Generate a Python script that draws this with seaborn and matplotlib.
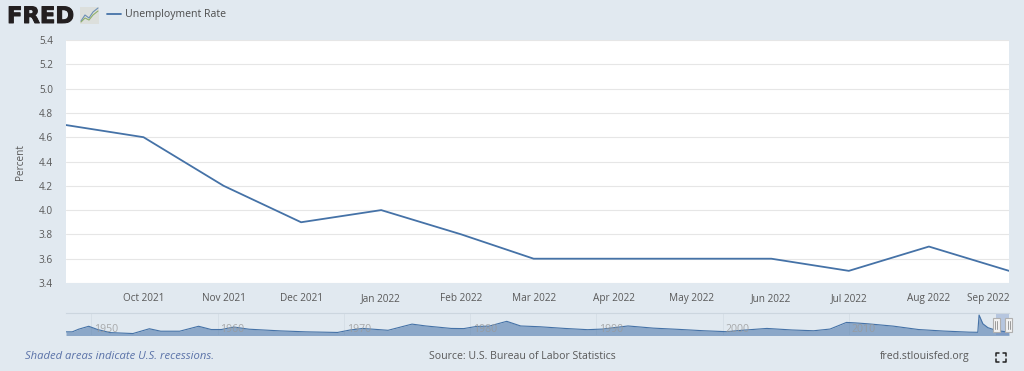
import matplotlib
matplotlib.use('Agg')
import matplotlib.pyplot as plt
import matplotlib.patheffects as pe
from matplotlib.lines import Line2D
from matplotlib.patches import Rectangle
import seaborn as sns
import pandas as pd

# Main series
months = ['2021-09-01', '2021-10-01', '2021-11-01', '2021-12-01', '2022-01-01', '2022-02-01', '2022-03-01',
          '2022-04-01', '2022-05-01', '2022-06-01', '2022-07-01', '2022-08-01', '2022-09-01']
rate = [4.7, 4.6, 4.2, 3.9, 4.0, 3.8, 3.6, 3.6, 3.6, 3.6, 3.5, 3.7, 3.5]
month_labels = ['', 'Oct 2021', 'Nov 2021', 'Dec 2021', 'Jan 2022', 'Feb 2022', 'Mar 2022',
                'Apr 2022', 'May 2022', 'Jun 2022', 'Jul 2022', 'Aug 2022', 'Sep 2022']
y_ticks = [3.4, 3.6, 3.8, 4.0, 4.2, 4.4, 4.6, 4.8, 5.0, 5.2, 5.4]

# Navigator series, read roughly from the small strip
nav_years = [1948, 1948.5, 1949, 1949.8, 1950.5, 1951.5, 1953.3, 1954.6, 1955.5, 1957, 1958.5, 1959.5, 1960.3, 1961.3,
             1962.5, 1965, 1967, 1969.5, 1970.5, 1971.5, 1973.5, 1975.4, 1976.5, 1978.5, 1979.5, 1980.5, 1981.5,
             1982.9, 1984, 1985.5, 1987.5, 1989.3, 1990.5, 1992.5, 1994.5, 1996.5, 1998.5, 2000.3, 2001.5, 2003.5,
             2005.5, 2007.2, 2008.5, 2009.8, 2010.5, 2011.5, 2013.5, 2015.5, 2017.5, 2019.5, 2020.2, 2020.3, 2020.6,
             2021.0, 2021.67, 2022.67]
nav_rate = [3.8, 3.8, 5.5, 7.4, 5.3, 3.3, 2.7, 5.8, 4.2, 4.2, 7.4, 5.3, 5.3, 6.9,
            5.5, 4.4, 3.8, 3.4, 5.0, 6.0, 4.8, 8.8, 7.6, 6.0, 5.9, 7.3, 7.5,
            10.6, 7.6, 7.1, 6.0, 5.2, 5.6, 7.6, 6.2, 5.4, 4.5, 3.9, 4.8, 6.0,
            5.0, 4.5, 5.6, 9.9, 9.6, 9.0, 7.5, 5.3, 4.3, 3.6, 3.5, 14.7, 9.0,
            6.5, 4.7, 3.5]
nav_tick_years = [1950, 1960, 1970, 1980, 1990, 2000, 2010]

df = pd.DataFrame({'date': pd.to_datetime(months), 'rate': rate})
nav = pd.DataFrame({'year': nav_years, 'rate': nav_rate})

sns.set_theme(style='white')
plt.rcParams['font.family'] = ['Open Sans', 'DejaVu Sans']

W, H = 1024, 371
BG = '#E1E9F0'
LINE = '#4572A7'
TXT = '#595959'


def box(l, t, r, b):
    return [l / W, 1 - b / H, (r - l) / W, (b - t) / H]


def px(x, y):
    return x / W, 1 - y / H


fig = plt.figure(figsize=(W / 100, H / 100), dpi=100, facecolor=BG)

# Main chart
ax = fig.add_axes(box(66, 40, 1009, 283), facecolor='white')
sns.lineplot(data=df, x='date', y='rate', color=LINE, linewidth=1.3, ax=ax, legend=False)
ax.set_xlim(df['date'].iloc[0], df['date'].iloc[-1])
ax.set_ylim(3.4, 5.4)
ax.set_yticks(y_ticks)
ax.set_yticklabels([f'{v:.1f}' for v in y_ticks], fontsize=7.2, color=TXT, va='center_baseline')
ax.set_xticks(df['date'])
ax.set_xticklabels(month_labels, fontsize=7.2, color=TXT, va='baseline')
ax.grid(axis='y', color='#E6E6E6', linewidth=0.8)
ax.set_axisbelow(True)
ax.tick_params(axis='y', length=0, pad=9.4)
ax.tick_params(axis='x', length=6, width=0.8, color='#C6D6E4', pad=7)
ax.get_xticklabels()[-1].set_ha('right')
for s in ax.spines.values():
    s.set_visible(False)
ax.set_xlabel('')
ax.set_ylabel('')
fig.text(*px(20, 162), 'Percent', rotation=90, ha='center', va='center', fontsize=7.2, color=TXT)

# Navigator strip
nx = fig.add_axes(box(66, 313, 1009, 335), facecolor='none')
nx.fill_between(nav['year'], nav['rate'], 0, color=LINE, alpha=0.55, linewidth=0)
sns.lineplot(data=nav, x='year', y='rate', color=LINE, linewidth=0.8, ax=nx, legend=False)
nx.set_xlim(1948, 2022.67)
nx.set_ylim(1.75, 16)
nx.set_xticks([])
nx.set_yticks([])
nx.set_xlabel('')
nx.set_ylabel('')
for s in nx.spines.values():
    s.set_visible(False)
nx.spines['top'].set_visible(True)
nx.spines['top'].set_color('#CCD6DF')
nx.spines['top'].set_linewidth(0.8)
for yr in nav_tick_years:
    nx.axvline(yr, color='#D5DEE6', linewidth=0.6, zorder=0)
    nx.annotate(str(yr), (yr, 0), xycoords=('data', 'axes fraction'), xytext=(2, 2.3),
                textcoords='offset points', fontsize=7.6, color='#999999', alpha=0.8)
nx.axvspan(2021.67, 2022.67, color='#6685C0', alpha=0.35, linewidth=0)
for yr in [2021.67, 2022.67]:
    xf, _ = fig.transFigure.inverted().transform(nx.transData.transform((yr, 0)))
    fig.add_artist(Rectangle((xf - 3.5 / W, 1 - 332 / H), 7 / W, 14 / H, transform=fig.transFigure,
                             facecolor='#F2F2F2', edgecolor='#B0B0B0', linewidth=0.8, zorder=5))
    for dx in (-0.9, 0.9):
        fig.add_artist(Line2D([xf + dx / W] * 2, [1 - 329 / H, 1 - 321 / H], color='#9A9A9A', linewidth=0.7, zorder=6))

# Header
logo = fig.text(*px(7, 23), 'FRED', fontsize=16.3, fontweight='bold', color='#231F20', ha='left', va='baseline',
                family='DejaVu Sans')
logo.set_path_effects([pe.withStroke(linewidth=0.7, foreground='#231F20')])
fig.add_artist(Rectangle(px(80, 24), 19 / W, 17 / H, transform=fig.transFigure, facecolor='#DCDFDC',
                         edgecolor='none', zorder=1))
fig.add_artist(Line2D([px(x, 0)[0] for x in (81, 85, 89, 93, 98)], [px(0, y)[1] for y in (21, 15, 18, 12, 8)],
                      color='#6C8FB5', linewidth=0.8, zorder=2))
fig.add_artist(Line2D([px(x, 0)[0] for x in (81, 85, 89, 93, 98)], [px(0, y)[1] for y in (22, 18, 20, 15, 11)],
                      color='#8FAF6A', linewidth=0.8, zorder=2))
fig.add_artist(Line2D([px(107, 0)[0], px(121, 0)[0]], [px(0, 14)[1]] * 2, color=LINE, linewidth=1.3))
fig.text(*px(125, 15), 'Unemployment Rate', fontsize=7.6, color='#4D4D4D', ha='left', va='center')

# Footer
fig.text(*px(25, 356.5), 'Shaded areas indicate U.S. recessions.', fontsize=8.1, style='italic', color='#5A72A8',
         ha='left', va='center')
fig.text(*px(429, 356.5), 'Source: U.S. Bureau of Labor Statistics', fontsize=7.6, color=TXT, ha='left', va='center')
fig.text(*px(970, 356.5), 'fred.stlouisfed.org', fontsize=7.6, color=TXT, ha='right', va='center')

# Fullscreen icon
for cx, cy, sx, sy in [(996, 353, 1, 1), (1006, 353, -1, 1), (996, 362, 1, -1), (1006, 362, -1, -1)]:
    fig.add_artist(Line2D([px(cx + 3 * sx, 0)[0], px(cx, 0)[0], px(cx, 0)[0]],
                          [px(0, cy)[1], px(0, cy)[1], px(0, cy + 3 * sy)[1]], color='#222222', linewidth=1.1))

fig.savefig('out.png', dpi=100, facecolor=BG)
